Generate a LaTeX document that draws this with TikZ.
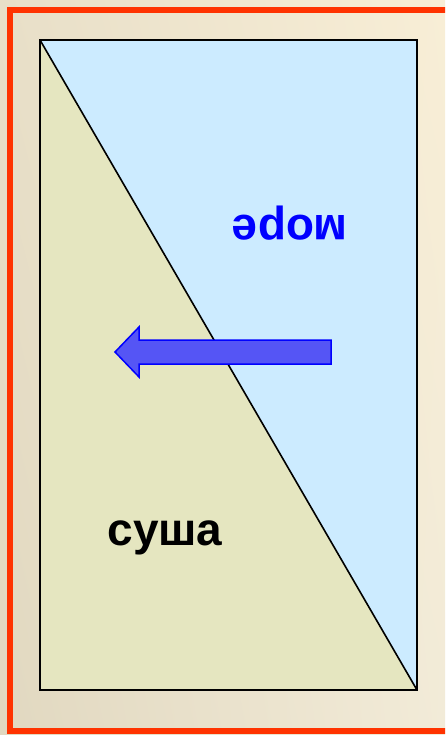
\documentclass[tikz,border=0pt]{standalone}
\usepackage{fontspec}
\setmainfont{Liberation Sans}
\usepackage{tikz}
\usetikzlibrary{positioning,shadings}
\definecolor{frame-red}{HTML}{FF3300}
\definecolor{landfill}{HTML}{E5E6C0}
\definecolor{seafill}{HTML}{CCEBFF}
\definecolor{arrowfill}{HTML}{5555F5}
\definecolor{arrowdraw}{HTML}{0000FF}
\definecolor{bg-ul}{HTML}{E8DFC8}
\definecolor{bg-ur}{HTML}{F8EED6}
\definecolor{bg-ll}{HTML}{E1D8C0}
\definecolor{bg-lr}{HTML}{F2EBD8}

\begin{document}
\begin{tikzpicture}[x=1pt, y=-1pt,
  region/.style={line width=1.6pt, line join=miter},
  label/.style={font=\fontsize{46}{52}\selectfont\bfseries, inner sep=0pt, anchor=base},
  blockarr/.style={fill=arrowfill, draw=arrowdraw, line width=1.5pt, line join=miter}
]
  \useasboundingbox (0,0) rectangle (445,735);
  \clip (0,0) rectangle (445,735);
  % background and frame
  \shade[upper left=bg-ul, upper right=bg-ur, lower left=bg-ll, lower right=bg-lr]
    (0,0) rectangle (445,735);
  \draw[frame-red, line width=6pt] (10,10) rectangle (450,731);

  % corners of the map
  \coordinate (tl) at (40,40);
  \coordinate (tr) at (417,40);
  \coordinate (bl) at (40,690);
  \coordinate (br) at (417,690);

  \fill[seafill] (tl) -- (tr) -- (br) -- cycle;
  \fill[landfill] (tl) -- (bl) -- (br) -- cycle;
  \draw[region] (tl) -- (br);
  \draw[region] (tl) rectangle (br);

  % labels
  \node[label, text=arrowdraw, rotate=180] (sea) at (290,215) {море};
  \node[label] (land) at (165,545) {суша};

  % arrow
  \coordinate (tip) at (115,352);
  \draw[blockarr] (tip) -- (139,327) -- (139,340) -- (331,340) -- (331,364)
    -- (139,364) -- (139,377) -- cycle;
\end{tikzpicture}
\end{document}
